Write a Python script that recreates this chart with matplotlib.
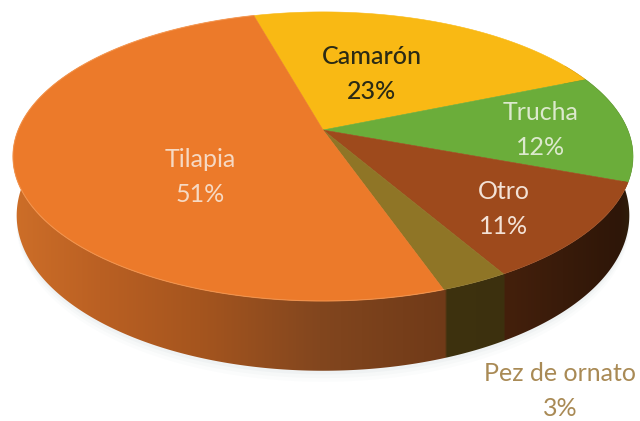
import numpy as np
import matplotlib
matplotlib.use("Agg")
import matplotlib.pyplot as plt
from matplotlib.patches import Polygon

# values, clockwise from the Camaron / Tilapia boundary
labels = ["Camarón", "Trucha", "Otro", "Pez de ornato", "Tilapia"]
shares = [23, 12, 11, 3, 51]
colors = ["#F9B914", "#6BAD3A", "#9E4A1C", "#8F7526", "#EC7A2A"]
text_colors = ["#2B2A15", "#DCE9CD", "#F3E2D6", "#A98A55", "#F6D9C3"]

# side wall shading, screen x -> colour
wall_x = [15, 100, 200, 320, 445, 447, 504, 505, 620, 640]
wall_r = [205, 186, 165, 130, 112, 62, 60, 68, 46, 48]
wall_g = [110, 96, 85, 70, 58, 50, 48, 32, 22, 38]
wall_b = [40, 35, 30, 30, 24, 15, 14, 12, 8, 14]

# where the labels sit, in pixels
label_x = [372, 541, 504, 560, 200]
label_y = [74, 130, 209, 391, 177]

# tilted disc with perspective
CX, CY = 323.0, 130.0
A, B, K = 139.7, 304.8, 0.183
START = -15.5
DEPTH = 57.0


def project(theta, drop=0.0):
    u, v = np.sin(theta), np.cos(theta)
    s = 1.0 / (1.0 + K * v)
    x = CX + (1.0 - 0.012 * (drop > 0)) * B * u * s
    y = CY - A * v * s + drop * s
    return x, y


fig = plt.figure(figsize=(6.4, 4.21), dpi=100)
ax = fig.add_axes([0, 0, 1, 1])
ax.set_xlim(0, 640)
ax.set_ylim(421, 0)
ax.axis("off")

edges = np.radians(START + np.concatenate([[0], np.cumsum(shares)]) * 3.6)
full = np.linspace(0, 2 * np.pi, 361)

# soft shadow under the pie
for grow, alpha in ((9, 0.025), (6, 0.035), (3, 0.05)):
    sx, sy = project(full, DEPTH + grow)
    ax.add_patch(Polygon(np.c_[sx, sy], closed=True, fc="#7f8f99", ec="none", alpha=alpha, zorder=1))

# side wall: horizontal gradient clipped to the wall outline
front = np.radians(np.linspace(60, 300, 400))
tx, ty = project(front)
bx, by = project(front, DEPTH)
wall = Polygon(np.vstack([np.c_[tx, ty], np.c_[bx, by][::-1]]), closed=True, fc="none", ec="none", zorder=2)
ax.add_patch(wall)
px = np.arange(0, 640) + 0.5
shade = np.stack(
    [np.interp(px, wall_x, wall_r), np.interp(px, wall_x, wall_g), np.interp(px, wall_x, wall_b)],
    axis=-1,
)[np.newaxis, :, :] / 255
img = ax.imshow(shade, extent=(0, 640, 421, 0), aspect="auto", interpolation="nearest", zorder=2)
img.set_clip_path(wall)
ax.set_xlim(0, 640)
ax.set_ylim(421, 0)

# top face
for start, stop, color in zip(edges[:-1], edges[1:], colors):
    t = np.linspace(start, stop, 120)
    x, y = project(t)
    pts = np.vstack([[CX, CY], np.c_[x, y]])
    ax.add_patch(Polygon(pts, closed=True, fc=color, ec=color, lw=0.4, zorder=3))

# lighter rim where the top meets the wall on the Tilapia slice
rim = np.linspace(edges[-2], edges[-1], 200)
rx, ry = project(rim)
ax.plot(rx, ry, color="#F59A55", lw=0.8, alpha=0.7, zorder=3.5)

for name, share, lx, ly, tc in zip(labels, shares, label_x, label_y, text_colors):
    ax.text(
        lx, ly, f"{name}\n{share}%",
        color=tc, fontsize=18, family="Lato", ha="center", va="center",
        linespacing=1.62, zorder=4,
        fontweight="medium" if name == "Camarón" else "normal",
    )

fig.savefig("out.png", dpi=100)
